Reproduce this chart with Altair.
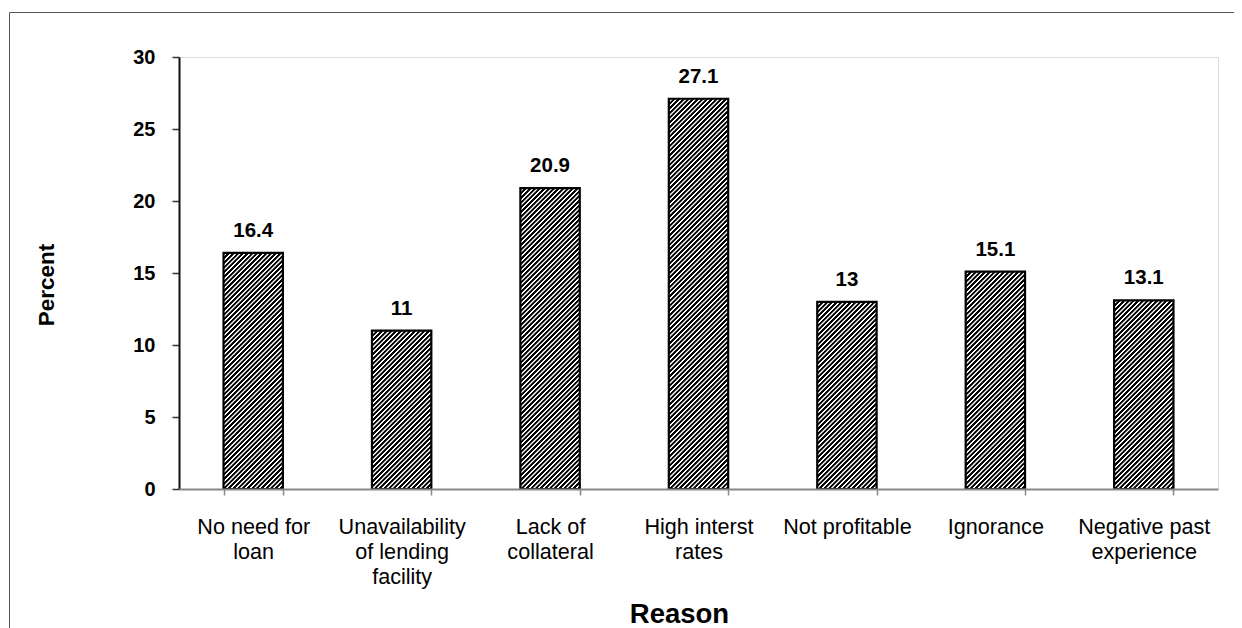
import altair as alt
import pandas as pd

# ---- data ----
categories = [
    "No need for\nloan",
    "Unavailability\nof lending\nfacility",
    "Lack of\ncollateral",
    "High interst\nrates",
    "Not profitable",
    "Ignorance",
    "Negative past\nexperience",
]
values = [16.4, 11, 20.9, 27.1, 13, 15.1, 13.1]
y_ticks = [0, 5, 10, 15, 20, 25, 30]

# ---- layout ----
PLOT_W, PLOT_H = 1039, 432
PAD = {"left": 171, "top": 49, "right": 16, "bottom": 140}
Y_MAX = 30
P_INNER = 0.6
FONT = "Liberation Sans"

df = pd.DataFrame({"reason": categories, "value": values, "idx": list(range(len(values)))})

step = PLOT_W / (len(categories) - P_INNER + P_INNER)
bar_w = step * (1 - P_INNER)


def hatch(h_px, w_px=bar_w, period=4.7):
    """diagonal '/' stripes as a linear gradient (style only)"""
    L = w_px + h_px
    pattern = [(0.0, "#000000"), (0.45, "#000000"), (0.60, "#ffffff"), (0.88, "#ffffff")]
    stops = []
    k = 0
    while k * period <= L:
        for frac, col in pattern:
            off = (k * period + frac * period) / L
            if off <= 1:
                stops.append(alt.GradientStop(offset=off, color=col))
        k += 1
    d = w_px * w_px + h_px * h_px
    return alt.LinearGradient(
        gradient="linear", stops=stops, x1=0, y1=0,
        x2=w_px * L / d, y2=h_px * L / d,
    )


x_enc = alt.X(
    "reason:N",
    sort=categories,
    scale=alt.Scale(paddingInner=P_INNER, paddingOuter=P_INNER / 2),
    axis=alt.Axis(
        title="Reason",
        labelAngle=0,
        labelExpr="split(datum.label, '\\n')",
        labelFont=FONT,
        labelFontSize=21.6,
        labelColor="#000000",
        labelLineHeight=25,
        labelBaseline="top",
        labelPadding=21,
        labelOverlap=False,
        labelLimit=300,
        tickBand="extent",
        tickSize=6,
        tickColor="#888888",
        tickWidth=1.5,
        domainColor="#888888",
        domainWidth=2,
        titleFont=FONT,
        titleFontSize=27.5,
        titleFontWeight="bold",
        titleColor="#000000",
        titleX=500,
        titleY=133,
        titleBaseline="alphabetic",
        zindex=1,
    ),
)
y_enc = alt.Y(
    "value:Q",
    scale=alt.Scale(domain=[0, Y_MAX], nice=False),
    axis=alt.Axis(
        values=y_ticks,
        grid=False,
        title="Percent",
        titleFont=FONT,
        titleFontSize=22.5,
        titleFontWeight="bold",
        titleColor="#000000",
        titleX=-133,
        titleY=227.5,
        titleBaseline="middle",
        labelFont=FONT,
        labelFontSize=20,
        labelFontWeight="bold",
        labelColor="#000000",
        labelPadding=17,
        tickSize=7,
        tickColor="#333333",
        tickWidth=1.5,
        domainColor="#111111",
        domainWidth=2,
    ),
)

layers = []
for i, v in enumerate(values):
    h = v / Y_MAX * PLOT_H
    layers.append(
        alt.Chart(df)
        .transform_filter(alt.datum.idx == i)
        .mark_bar(fill=hatch(h), stroke="#000000", strokeWidth=2.2)
        .encode(x=x_enc, y=y_enc)
    )

labels = (
    alt.Chart(df)
    .mark_text(dy=-16, baseline="alphabetic", font=FONT, fontSize=20.5,
               fontWeight="bold", color="#000000")
    .encode(x=x_enc, y=y_enc, text=alt.Text("value:Q", format="~g"))
)

frame_df = pd.DataFrame({"k": [0]})
frame_left = alt.Chart(frame_df).mark_rule(color="#555555", strokeWidth=1).encode(
    x=alt.value(-169.5), y=alt.value(-44.5), y2=alt.value(700)
)
frame_top = alt.Chart(frame_df).mark_rule(color="#555555", strokeWidth=1).encode(
    x=alt.value(-169.5), x2=alt.value(1200), y=alt.value(-44.5)
)

chart = (
    alt.layer(*layers, labels, frame_left, frame_top)
    .properties(
        width=PLOT_W,
        height=PLOT_H,
        autosize=alt.AutoSizeParams(type="none"),
        padding=PAD,
    )
    .configure_view(stroke="#888888", strokeWidth=2)
    .configure(background="white")
)

chart.save("out.html", embed_options={"renderer": "svg", "actions": False})
